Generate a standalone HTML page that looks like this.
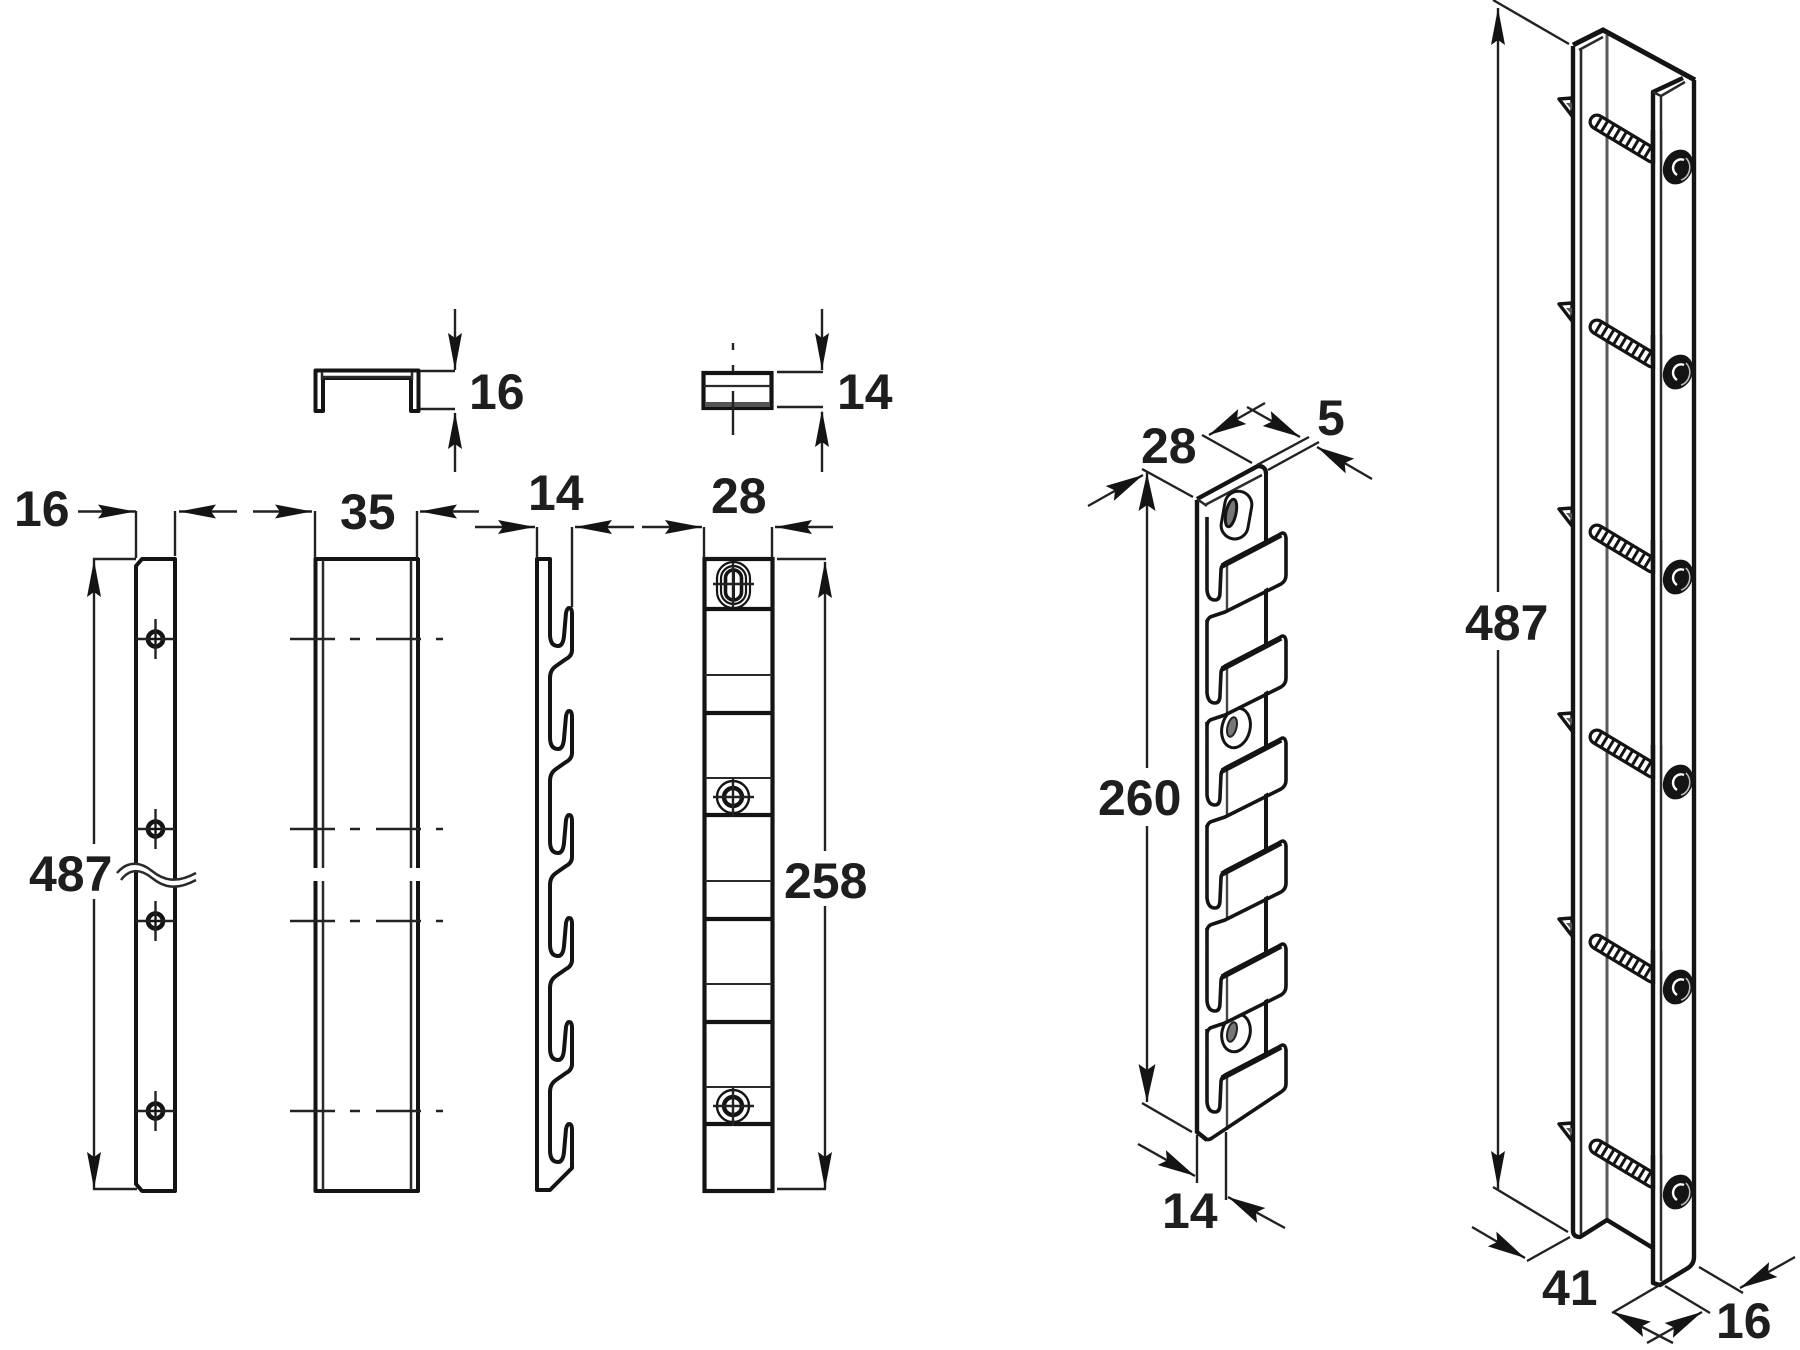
<!DOCTYPE html>
<html><head><meta charset="utf-8"><style>
html,body{margin:0;padding:0;background:#fff;width:1800px;height:1350px;overflow:hidden}
svg{display:block}
text{font-family:"Liberation Sans",Arial,sans-serif;font-weight:700;font-size:50px;fill:#1e1e1e}
.d{stroke:#222;stroke-width:2.4;fill:none}
.o{stroke:#141414;stroke-width:4;fill:none;stroke-linejoin:round}
.t{stroke:#2a2a2a;stroke-width:2.5;fill:none}
</style></head><body>
<svg width="1800" height="1350" viewBox="0 0 1800 1350" xmlns="http://www.w3.org/2000/svg">
<defs>
<polygon id="a" points="0,0 -37,-7 -32,0 -37,7" fill="#141414"/>
<polygon id="b" points="0,0 -38,-8.5 -32,0 -38,8.5" fill="#141414"/>
<g id="hA">
<circle cx="155.5" cy="0" r="7.5" fill="#fff" stroke="#141414" stroke-width="4.6"/>
<path d="M155.5 -20V20M136 0H175" class="d"/>
<path d="M150 0H161M155.5 -5V5" stroke="#141414" stroke-width="2"/>
</g>
<path id="hB" d="M290 0H335M350 0H360M376 0H421M436 0H443" class="d"/>
<g id="hD">
<circle cx="733" cy="0" r="16" fill="#fff" stroke="#141414" stroke-width="2.4"/>
<circle cx="733" cy="0" r="9" fill="#fff" stroke="#141414" stroke-width="4.4"/>
<path d="M713 0H754M733 -20V20" class="d"/>
</g>
<g id="tab">
<path d="M1227 562L1286 532V577L1225 612Z" fill="#fff"/>
<path d="M1227 566V611" stroke="#444" stroke-width="2.4" fill="none"/>
<path d="M1207 517V590Q1208 600 1215 600Q1220 600 1220 592L1221 570Q1221 565 1227 562L1279 535Q1285 530 1286 538V575Q1286 581 1281 584L1225 612L1213 616Q1208 617 1207 622" class="o" style="stroke-width:3.6"/>
<path d="M1222 566L1281 535" stroke="#141414" stroke-width="5.5" fill="none"/>
</g>
<g id="rs">
<path d="M1559 99L1572 98V116Z" fill="#fff" stroke="#141414" stroke-width="3.4" stroke-linejoin="round"/>
<path d="M1566 103L1572 103V110Z" fill="#555"/>
<path d="M1597 122L1652 155" stroke="#141414" stroke-width="17" stroke-linecap="round"/>
<path d="M1597 122L1652 155" stroke="#fff" stroke-width="10.5" stroke-linecap="round"/>
<path d="M1597 122L1652 155" stroke="#141414" stroke-width="11" stroke-dasharray="3 4.2"/>
<rect x="1655" y="130" width="6" height="34" fill="#fff"/>
<path d="M1653 130V164" stroke="#141414" stroke-width="4.6"/>
<path d="M1661 130V164" stroke="#2a2a2a" stroke-width="2.5"/>
<ellipse cx="1678" cy="167" rx="14.5" ry="18" transform="rotate(25 1678 167)" fill="#141414"/>
<path d="M1686 158A12 13 0 0 1 1681 180" fill="none" stroke="#bbb" stroke-width="1.6"/>
<path d="M1684 160A8 9 0 0 0 1673 168A8 9 0 0 0 1677 175" fill="none" stroke="#fff" stroke-width="2.4"/>
</g>
</defs>

<!-- Part A -->
<path d="M136 566L142 559H175V1191H142L136 1184Z" class="o"/>
<use href="#hA" transform="translate(0,639)"/>
<use href="#hA" transform="translate(0,829)"/>
<use href="#hA" transform="translate(0,921)"/>
<use href="#hA" transform="translate(0,1111)"/>
<path d="M136 511V558M175 511V556" class="d"/>
<path d="M78 511.5H136" class="d"/><use href="#a" transform="translate(135,511.5)"/>
<path d="M179 511.5H237" class="d"/><use href="#a" transform="translate(179,511.5) rotate(180)"/>
<text x="14" y="526">16</text>
<!-- 487 left -->
<path d="M136 559H94V844M94 899V1189H137" class="d"/>
<use href="#a" transform="translate(94,560) rotate(-90)"/>
<use href="#a" transform="translate(94,1189) rotate(90)"/>
<text x="29" y="891">487</text>
<path d="M117 873C128 860 141 862 152 871S176 884 196 873L196 879C176 892 163 888 152 878S128 867 120 879Z" fill="#fff" stroke="none"/>
<path d="M117 873C128 860 141 862 152 871S176 884 196 873" class="t"/>
<path d="M121 880C130 868 141 869 152 878S176 891 196 880" class="t"/>

<!-- Part B -->
<path d="M315.5 558V868M418 558V868M315.5 881V1191H418V881M315 559H419" class="o"/>
<path d="M323 560V868M411 560V868M323 881V1190M411 881V1190" class="t"/>
<use href="#hB" transform="translate(0,639)"/>
<use href="#hB" transform="translate(0,829)"/>
<use href="#hB" transform="translate(0,921)"/>
<use href="#hB" transform="translate(0,1111)"/>
<path d="M315 511V558M417 511V558" class="d"/>
<path d="M253 511.5H312" class="d"/><use href="#a" transform="translate(312,511.5)"/>
<path d="M420 511.5H479" class="d"/><use href="#a" transform="translate(420,511.5) rotate(180)"/>
<text x="340" y="529">35</text>

<!-- Clip top -->
<path d="M315.5 411V370.5H418.5V411H411V378H323V411Z" class="o"/>
<path d="M322 372V380M322 377H412M412 372V380" class="t"/>
<path d="M420 371H455M420 409H455M455 309V370M455 413V472" class="d"/>
<use href="#a" transform="translate(455,370) rotate(90)"/>
<use href="#a" transform="translate(455,412) rotate(-90)"/>
<text x="469" y="409">16</text>

<!-- Part C hooks -->
<path d="M537 559H550V634Q550 646 558 646Q563 646 564 636L566 613Q567 608 569 608Q572 608 572 614V650Q572 656 566 659L556 666Q550 670 550 678V737Q550 749 558 749Q563 749 564 739L566 716Q567 711 569 711Q572 711 572 717V753Q572 759 566 762L556 769Q550 773 550 781V841Q550 853 558 853Q563 853 564 843L566 820Q567 815 569 815Q572 815 572 821V857Q572 863 566 866L556 873Q550 877 550 885V944Q550 956 558 956Q563 956 564 946L566 923Q567 918 569 918Q572 918 572 924V960Q572 966 566 969L556 976Q550 980 550 988V1048Q550 1060 558 1060Q563 1060 564 1050L566 1027Q567 1022 569 1022Q572 1022 572 1028V1064Q572 1070 566 1073L556 1080Q550 1084 550 1092V1150Q550 1162 558 1162Q563 1162 564 1152L566 1129Q567 1124 569 1124Q572 1124 572 1130V1168L550 1190H537Z" class="o"/>
<path d="M537 527V558M572 527V607" class="d"/>
<path d="M475 527H535" class="d"/><use href="#a" transform="translate(535,527)"/>
<path d="M575 527H634" class="d"/><use href="#a" transform="translate(575,527) rotate(180)"/>
<text x="528" y="510">14</text>

<!-- Part D -->
<rect x="704.5" y="559" width="68" height="632" fill="none" stroke="#141414" stroke-width="4.2"/>
<path d="M705 609H772M705 713H772M705 815H772M705 919H772M705 1022H772M705 1124H772" stroke="#141414" stroke-width="4.2"/>
<path d="M705 675H772M705 778H772M705 881H772M705 984H772M705 1087H772" stroke="#2a2a2a" stroke-width="2"/>
<rect x="717" y="562" width="33" height="46" rx="16.5" fill="#fff" stroke="#141414" stroke-width="2.2"/>
<rect x="721" y="566" width="25" height="38" rx="12.5" fill="none" stroke="#141414" stroke-width="2.2"/>
<rect x="725.5" y="570" width="16" height="30" rx="8" fill="none" stroke="#141414" stroke-width="3.6"/>
<path d="M733.5 570V600" stroke="#141414" stroke-width="3"/>
<path d="M713 584H754M733 562V608" class="d"/>
<use href="#hD" transform="translate(0,797)"/>
<use href="#hD" transform="translate(0,1106)"/>
<path d="M704 527V558M772 527V558" class="d"/>
<path d="M642 527H702" class="d"/><use href="#a" transform="translate(702,527)"/>
<path d="M775 527H833" class="d"/><use href="#a" transform="translate(775,527) rotate(180)"/>
<text x="711" y="513">28</text>
<path d="M777 559H826M825 562V851M825 906V1189M777 1189H826" class="d"/>
<use href="#a" transform="translate(825,561) rotate(-90)"/>
<use href="#a" transform="translate(825,1189) rotate(90)"/>
<text x="784" y="898">258</text>

<!-- Block top -->
<rect x="703.5" y="373" width="68" height="35" fill="none" stroke="#141414" stroke-width="4.2"/>
<path d="M704 386H771" stroke="#2a2a2a" stroke-width="2.2"/>
<rect x="705" y="402" width="65" height="5" fill="#555"/>
<path d="M733 343V350M733 365V372M733 391V435" class="d"/>
<path d="M777 372H823M777 407H823M822 309V370M822 412V472" class="d"/>
<use href="#a" transform="translate(822,370) rotate(90)"/>
<use href="#a" transform="translate(822,410) rotate(-90)"/>
<text x="837" y="409">14</text>

<!-- Middle iso part -->
<path d="M1266 472V1060" class="o"/>
<path d="M1197 500V1132L1207 1140" stroke="#141414" stroke-width="4.4" fill="none"/>
<path d="M1197 499L1258 466Q1266 466 1266 474" stroke="#141414" stroke-width="4.4" fill="none"/>
<path d="M1205 505L1262 475M1197 499L1207 506" class="t"/>
<rect x="1223" y="491" width="27" height="48" rx="13.5" transform="rotate(10 1236 515)" fill="#fff" stroke="#141414" stroke-width="3"/>
<ellipse cx="1231" cy="513" rx="5" ry="14" transform="rotate(12 1231 513)" fill="#777" stroke="#141414" stroke-width="3"/>
<ellipse cx="1236" cy="728" rx="14" ry="20" transform="rotate(14 1236 728)" fill="#fff" stroke="#141414" stroke-width="3"/>
<ellipse cx="1232" cy="727" rx="4.5" ry="10" transform="rotate(14 1232 727)" fill="#777" stroke="#222" stroke-width="2"/>
<ellipse cx="1236" cy="1033" rx="14" ry="19" transform="rotate(14 1236 1033)" fill="#fff" stroke="#141414" stroke-width="3"/>
<ellipse cx="1232" cy="1032" rx="4.5" ry="10" transform="rotate(14 1232 1032)" fill="#777" stroke="#222" stroke-width="2"/>
<use href="#tab"/>
<use href="#tab" transform="translate(0,103)"/>
<use href="#tab" transform="translate(0,205)"/>
<use href="#tab" transform="translate(0,308)"/>
<use href="#tab" transform="translate(0,411)"/>
<path d="M1227 1074L1286 1044V1087L1226 1125Z" fill="#fff"/>
<path d="M1227 1078V1130" stroke="#444" stroke-width="2.4"/>
<path d="M1207 1029V1102Q1208 1112 1215 1112Q1220 1112 1220 1104L1221 1082Q1221 1077 1227 1074L1279 1047Q1285 1042 1286 1050V1084Q1286 1089 1281 1092L1212 1138Q1208 1141 1204 1138" class="o" style="stroke-width:3.6"/>
<path d="M1222 1078L1281 1047" stroke="#141414" stroke-width="5.5" fill="none"/>
<!-- mid dims -->
<path d="M1142 469L1193 497M1142 1103L1192 1132M1147 472V768M1147 826V1102" class="d"/>
<use href="#b" transform="translate(1147,473) rotate(-90)"/>
<use href="#b" transform="translate(1147,1102) rotate(90)"/>
<path d="M1088 506L1143 475" class="d"/><use href="#b" transform="translate(1143,475) rotate(-29)"/>
<path d="M1202 435L1252 463M1257 465L1309 437M1268 470L1319 442" class="d"/>
<path d="M1209 435L1265 403" class="d"/><use href="#b" transform="translate(1209,435) rotate(151)"/>
<path d="M1300 437L1247 407" class="d"/><use href="#b" transform="translate(1300,437) rotate(29)"/>
<path d="M1317 447L1372 479" class="d"/><use href="#b" transform="translate(1317,447) rotate(210)"/>
<path d="M1197 1135V1183M1226 1132V1200" class="d"/>
<path d="M1138 1144L1195 1176" class="d"/><use href="#b" transform="translate(1195,1176) rotate(29)"/>
<path d="M1228 1197L1285 1228" class="d"/><use href="#b" transform="translate(1228,1197) rotate(209)"/>
<text x="1141" y="463">28</text>
<text x="1317" y="435">5</text>
<text x="1098" y="815">260</text>
<text x="1162" y="1228">14</text>

<!-- Tall right part -->
<path d="M1607 35V1220" stroke="#5a5a5a" stroke-width="3" fill="none"/>
<path d="M1573 46V1232Q1574 1237 1580 1237L1607 1220L1653 1248" stroke="#141414" stroke-width="4.4" fill="none" stroke-linejoin="round"/>
<path d="M1581 50V1234" stroke="#2a2a2a" stroke-width="2.6"/>
<path d="M1573 45L1603 30L1695 80" stroke="#141414" stroke-width="5" fill="none"/>
<path d="M1579 50L1603 37" class="t"/>
<path d="M1694 80V1257Q1694 1264 1688 1268L1660 1285L1653 1283V92L1683 78" stroke="#141414" stroke-width="4.4" fill="none" stroke-linejoin="round"/>
<path d="M1661 96V1281M1661 96L1685 82M1653 92L1661 96" class="t"/>
<use href="#rs"/>
<use href="#rs" transform="translate(0,205)"/>
<use href="#rs" transform="translate(0,410)"/>
<use href="#rs" transform="translate(0,615)"/>
<use href="#rs" transform="translate(0,820)"/>
<use href="#rs" transform="translate(0,1025)"/>
<!-- right dims -->
<path d="M1493 0L1569 44M1493 1187L1568 1232M1498 8V592M1498 650V1190" class="d"/>
<use href="#a" transform="translate(1498,8) rotate(-90)"/>
<use href="#a" transform="translate(1498,1188) rotate(90)"/>
<path d="M1570 1237L1527 1261" class="d"/>
<path d="M1472 1227L1525 1258" class="d"/><use href="#b" transform="translate(1525,1258) rotate(30)"/>
<path d="M1658 1286L1612 1313M1665 1286L1710 1313M1699 1267L1743 1293" class="d"/>
<path d="M1613 1312L1673 1343" class="d"/><use href="#b" transform="translate(1613,1312) rotate(207)"/>
<path d="M1702 1312L1647 1343" class="d"/><use href="#b" transform="translate(1702,1312) rotate(-29)"/>
<path d="M1740 1288L1795 1257" class="d"/><use href="#b" transform="translate(1740,1288) rotate(151)"/>
<text x="1465" y="640">487</text>
<text x="1542" y="1305">41</text>
<text x="1716" y="1338">16</text>
</svg>
</body></html>
